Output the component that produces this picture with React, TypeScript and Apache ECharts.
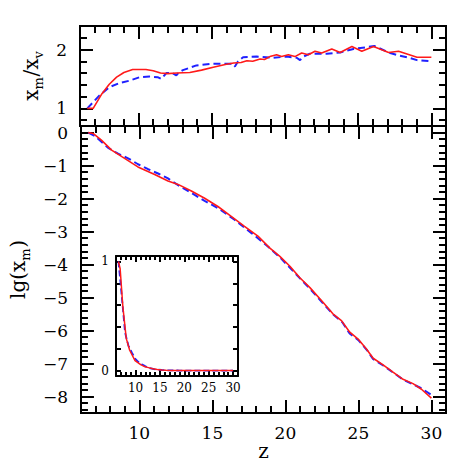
import React, { useEffect, useRef } from 'react';
import * as echarts from 'echarts';

// ---- data ----
const topRedZ = [6.5, 6.9, 7.5, 8.0, 8.5, 9.0, 9.6, 10.5, 11.0, 11.5, 12.0, 12.6, 13.5, 14.3, 15.1, 16.0, 16.5, 17.0, 17.4, 17.8, 18.3, 18.6, 18.97, 19.43, 19.77, 20.23, 20.68, 21.14, 21.6, 22.05, 22.51, 23.2, 23.77, 24.57, 25.25, 26.05, 27.08, 27.76, 29.02, 30.0];
const topRedV = [1.0, 1.0, 1.25, 1.41, 1.53, 1.61, 1.66, 1.66, 1.64, 1.6, 1.59, 1.6, 1.61, 1.65, 1.7, 1.75, 1.77, 1.78, 1.81, 1.8, 1.84, 1.83, 1.88, 1.91, 1.88, 1.91, 1.88, 1.94, 1.91, 1.97, 1.94, 2.01, 1.95, 2.05, 1.97, 2.05, 1.95, 1.97, 1.87, 1.87];

const topBlueZ = [6.5, 7.33, 8.01, 8.7, 9.38, 10.07, 10.75, 11.3, 11.55, 11.9, 12.3, 12.58, 12.75, 13.03, 13.95, 15.09, 16.0, 16.4, 16.58, 16.8, 17.14, 18.06, 19.2, 20.12, 20.8, 21.03, 21.25, 21.71, 22.86, 23.77, 24.68, 25.6, 26.1, 27.19, 27.76, 28.5, 29.02, 30.0];
const topBlueV = [1.0, 1.22, 1.36, 1.43, 1.47, 1.53, 1.54, 1.53, 1.5, 1.6, 1.6, 1.56, 1.61, 1.65, 1.73, 1.76, 1.76, 1.76, 1.71, 1.8, 1.87, 1.88, 1.86, 1.88, 1.86, 1.82, 1.88, 1.93, 1.93, 1.95, 2.01, 2.04, 2.06, 1.94, 1.9, 1.86, 1.82, 1.8];

const lowRedZ = [6.5, 6.85, 7.4, 8.1, 8.8, 9.9, 11.05, 11.96, 12.65, 13.56, 14.47, 15.38, 16.29, 17.2, 18.12, 18.94, 19.62, 20.31, 20.99, 21.68, 22.59, 23.27, 23.84, 24.41, 24.98, 25.55, 26.01, 26.69, 27.37, 28.06, 28.74, 29.32, 30.0];
const lowRedLg = [0, -0.03, -0.23, -0.53, -0.73, -1.04, -1.27, -1.47, -1.57, -1.77, -1.99, -2.24, -2.54, -2.84, -3.14, -3.5, -3.75, -4.05, -4.4, -4.7, -5.15, -5.5, -5.7, -6.05, -6.26, -6.56, -6.84, -7.04, -7.26, -7.48, -7.61, -7.78, -8.05];

const lowBlueZ = [6.5, 6.95, 7.86, 8.54, 9.23, 9.91, 10.6, 11.28, 11.96, 12.65, 13.79, 14.47, 15.38, 16.52, 17.66, 18.8, 19.6, 20.3, 21.0, 21.7, 22.6, 23.3, 23.9, 24.4, 25.0, 25.6, 26.0, 26.7, 27.4, 28.1, 28.7, 29.3, 30.0];
const lowBlueLg = [0, -0.1, -0.46, -0.64, -0.78, -0.96, -1.11, -1.24, -1.39, -1.59, -1.89, -2.07, -2.29, -2.64, -3.04, -3.45, -3.77, -4.09, -4.42, -4.74, -5.19, -5.52, -5.75, -6.09, -6.29, -6.6, -6.86, -7.06, -7.28, -7.5, -7.62, -7.75, -7.95];

const xLabelTicks = [10, 15, 20, 25, 30];
const topYLabelTicks = [1, 2];
const lowYLabelTicks = [0, -1, -2, -3, -4, -5, -6, -7, -8];
const insetYLabelTicks = [0, 1];

const X_MIN = 6, X_MAX = 31;
const TOP_Y = [0.7, 2.4];
const LOW_Y = [-8.5, 0.2];
const INSET_Y = [-0.05, 1.05];

const FONT = 'DejaVu Serif';
const RED = '#ff1a1a';
const BLUE = '#2020ff';

const near = (v: number, list: number[]) => list.some((t) => Math.abs(t - v) < 1e-6);
const fmtNum = (v: number) => (v < 0 ? '\u2212' + String(Math.round(-v)) : String(Math.round(v)));

// one axis = one tick family; minor tick families are separate label-less axes
function xAxisCfg(grid: number, position: string, splitNumber: number, len: number, labelSize: number | null, margin: number, minorLen = 0) {
  const ax: any = {
    type: 'value',
    gridIndex: grid,
    position,
    min: X_MIN,
    max: X_MAX,
    splitNumber,
    axisLine: { show: true, onZero: false, lineStyle: { color: '#000', width: 2 } },
    axisTick: { show: true, inside: true, length: len, lineStyle: { color: '#000', width: 2 } },
    splitLine: { show: false },
    axisLabel: {
      show: labelSize != null,
      margin,
      color: '#000',
      fontFamily: FONT,
      fontSize: labelSize || 12,
      formatter: (v: number) => (near(v, xLabelTicks) ? fmtNum(v) : ''),
    },
  };
  if (minorLen > 0) ax.minorTick = { show: true, splitNumber: 5, length: minorLen, lineStyle: { color: '#000', width: 2 } };
  return ax;
}

function yAxisCfg(grid: number, position: string, range: number[], splitNumber: number, labels: number[] | null, len: number, fs: number, margin: number) {
  return {
    type: 'value',
    gridIndex: grid,
    position,
    min: range[0],
    max: range[1],
    splitNumber,
    axisLine: { show: true, onZero: false, lineStyle: { color: '#000', width: 2 } },
    axisTick: { show: true, inside: true, length: len, lineStyle: { color: '#000', width: 2 } },
    splitLine: { show: false },
    axisLabel: {
      show: !!labels,
      margin,
      color: '#000',
      fontFamily: FONT,
      fontSize: fs,
      formatter: (v: number) => (labels && near(v, labels) ? fmtNum(v) : ''),
    },
  };
}

const zip = (a: number[], b: number[]) => a.map((x, i) => [x, b[i]]);
const zipPow = (a: number[], b: number[]) => a.map((x, i) => [x, Math.pow(10, b[i])]);

const richName = {
  a: { fontFamily: FONT, fontSize: 20, color: '#000', lineHeight: 20, verticalAlign: 'top' },
  s: { fontFamily: FONT, fontSize: 13, color: '#000', lineHeight: 13, verticalAlign: 'bottom' },
  p: { fontFamily: FONT, fontSize: 2, lineHeight: 24, color: '#000' },
};

export default function App() {
  const ref = useRef<HTMLDivElement>(null);
  useEffect(() => {
    if (!ref.current) return;
    const chart = echarts.init(ref.current, null, { renderer: 'svg' });

    const xAxes: any[] = [
      xAxisCfg(0, 'bottom', 5, 13, null, 11),
      xAxisCfg(0, 'top', 5, 13, null, 11),
      { ...xAxisCfg(1, 'bottom', 5, 13, 17, 11), name: 'z', nameLocation: 'middle', nameGap: 28, nameMoveOverlap: false, nameTextStyle: { fontFamily: FONT, fontSize: 20, color: '#000' } },
      xAxisCfg(1, 'top', 5, 13, null, 11),
      xAxisCfg(2, 'bottom', 5, 6, 12, 6, 4),
      xAxisCfg(2, 'top', 5, 6, null, 6, 4),
      // minor ticks (every 1) of the main panels
      xAxisCfg(0, 'bottom', 25, 7, null, 11),
      xAxisCfg(0, 'top', 25, 7, null, 11),
      xAxisCfg(1, 'bottom', 25, 7, null, 11),
      xAxisCfg(1, 'top', 25, 7, null, 11),
    ];

    const yAxes: any[] = [
      { ...yAxisCfg(0, 'left', TOP_Y, 2, topYLabelTicks, 13, 17, 13), name: '{a|x}{s|m}{p| }{a|/x}{s|v}', nameLocation: 'middle', nameGap: 30, nameTextStyle: { color: '#000', rich: richName } },
      yAxisCfg(0, 'right', TOP_Y, 2, null, 13, 17, 13),
      { ...yAxisCfg(1, 'left', LOW_Y, 9, lowYLabelTicks, 13, 17, 13), name: '{a|lg(x}{s|m}{p| }{a|)}', nameLocation: 'middle', nameGap: 43, nameTextStyle: { color: '#000', rich: richName } },
      yAxisCfg(1, 'right', LOW_Y, 9, null, 13, 17, 13),
      yAxisCfg(2, 'left', INSET_Y, 5, insetYLabelTicks, 5, 12, 7),
      yAxisCfg(2, 'right', INSET_Y, 5, null, 5, 12, 7),
      // minor ticks (every 0.2) of the main panels
      yAxisCfg(0, 'left', TOP_Y, 8, null, 7, 17, 13),
      yAxisCfg(0, 'right', TOP_Y, 8, null, 7, 17, 13),
      yAxisCfg(1, 'left', LOW_Y, 43, null, 7, 17, 13),
      yAxisCfg(1, 'right', LOW_Y, 43, null, 7, 17, 13),
    ];

    const lineBase = { type: 'line', showSymbol: false, symbol: 'none', smooth: false };

    chart.setOption({
      animation: false,
      grid: [
        { left: 80, top: 26, width: 366, height: 100 },
        { left: 80, top: 126, width: 366, height: 287 },
        { left: 116, top: 256, width: 122, height: 120, show: true, backgroundColor: '#fff', borderWidth: 0 },
      ],
      xAxis: xAxes,
      yAxis: yAxes,
      series: [
        { ...lineBase, name: 'ratio v', xAxisIndex: 0, yAxisIndex: 0, data: zip(topBlueZ, topBlueV), lineStyle: { color: BLUE, width: 2, type: [7, 4] } },
        { ...lineBase, name: 'ratio m', xAxisIndex: 0, yAxisIndex: 0, data: zip(topRedZ, topRedV), lineStyle: { color: RED, width: 1.6 } },
        { ...lineBase, name: 'lg v', xAxisIndex: 2, yAxisIndex: 2, data: zip(lowBlueZ, lowBlueLg), lineStyle: { color: BLUE, width: 2, type: [7, 4] } },
        { ...lineBase, name: 'lg m', xAxisIndex: 2, yAxisIndex: 2, data: zip(lowRedZ, lowRedLg), lineStyle: { color: RED, width: 1.6 } },
        { ...lineBase, name: 'inset v', xAxisIndex: 4, yAxisIndex: 4, data: zipPow(lowBlueZ, lowBlueLg), lineStyle: { color: BLUE, width: 1.8, type: [6, 3] } },
        { ...lineBase, name: 'inset m', xAxisIndex: 4, yAxisIndex: 4, data: zipPow(lowRedZ, lowRedLg), lineStyle: { color: RED, width: 1.5 } },
      ],
    });
    return () => chart.dispose();
  }, []);
  return <div ref={ref} style={{ position: 'fixed', left: 0, top: 0, width: 471, height: 471, background: '#fff' }} />;
}
